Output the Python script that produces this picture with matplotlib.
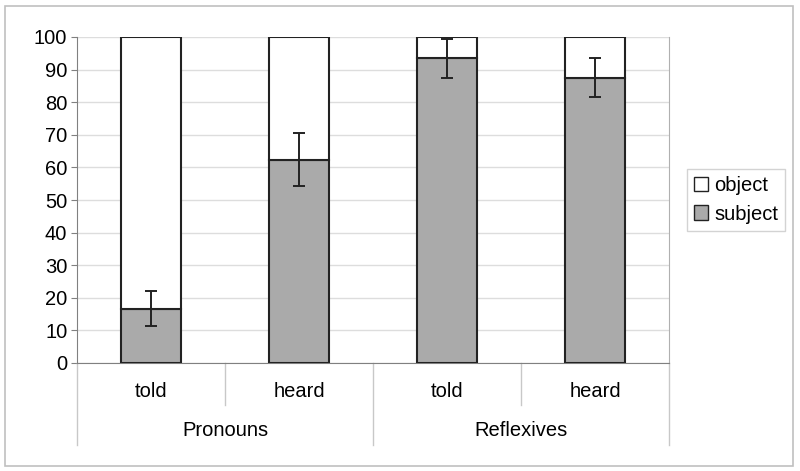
import matplotlib
matplotlib.use("Agg")
import matplotlib.pyplot as plt
from matplotlib.patches import Patch, Rectangle
from matplotlib.lines import Line2D
import numpy as np

plt.rcParams["font.family"] = ["Liberation Sans", "DejaVu Sans"]

# data
conditions = ["told", "heard", "told", "heard"]
groups = ["Pronouns", "Reflexives"]
subject = [16.6, 62.4, 93.5, 87.5]
subject_err = [5.4, 8.0, 6.0, 6.0]
obj = [100 - s for s in subject]

GREY = "#aaaaaa"
FS = 14.5

fig = plt.figure(figsize=(8, 4.71), dpi=100)
fig.patches.append(Rectangle((5 / 800, 5 / 471), 788 / 800, 460 / 471,
                             transform=fig.transFigure, fill=False,
                             edgecolor="#c0c0c0", lw=1.2))
ax = fig.add_axes([77 / 800, 108 / 471, 592 / 800, 326 / 471])

x = np.arange(len(conditions))
w = 0.41
ax.bar(x, subject, w, color=GREY, edgecolor="#222222", lw=1.5, zorder=3)
ax.bar(x, obj, w, bottom=subject, color="white", edgecolor="#222222", lw=1.5, zorder=3)
ax.errorbar(x, subject, yerr=subject_err, fmt="none", ecolor="#222222",
            elinewidth=1.4, capsize=4.5, capthick=1.4, zorder=4)

ax.set_xlim(-0.5, len(conditions) - 0.5)
ax.set_ylim(0, 100)
ax.set_yticks(range(0, 101, 10))
ax.tick_params(axis="y", labelsize=FS, length=4, color="#808080", pad=3)
ax.set_xticks([])
ax.yaxis.grid(True, color="#dddddd", lw=1)
ax.set_axisbelow(True)
ax.spines["top"].set_visible(False)
ax.spines["left"].set_color("#808080")
ax.spines["bottom"].set_color("#808080")
ax.spines["right"].set_color("#b0b0b0")

# category labels
tr = ax.get_xaxis_transform()
for i, c in enumerate(conditions):
    ax.text(i, -0.088, c, transform=tr, ha="center", va="center", fontsize=FS)
for g, name in enumerate(groups):
    ax.text(2 * g + 0.5, -0.208, name, transform=tr, ha="center", va="center", fontsize=FS)

# separators
for b in [0.5, 2.5]:
    ax.add_line(Line2D([b, b], [0, -0.13], transform=tr, color="#c8c8c8", lw=1, clip_on=False))
for b in [-0.5, 1.5, 3.5]:
    ax.add_line(Line2D([b, b], [0, -0.25], transform=tr, color="#c8c8c8", lw=1, clip_on=False))

handles = [Patch(facecolor="white", edgecolor="#222222", label="object"),
           Patch(facecolor=GREY, edgecolor="#222222", label="subject")]
fig.legend(handles=handles, loc="center left", bbox_to_anchor=(687 / 800, 271 / 471),
           fontsize=FS, frameon=True, fancybox=False, edgecolor="#c8c8c8",
           handlelength=0.7, handleheight=0.7, handletextpad=0.3,
           borderpad=0.35, labelspacing=0.45, borderaxespad=0)

fig.savefig("out.png", dpi=100)
